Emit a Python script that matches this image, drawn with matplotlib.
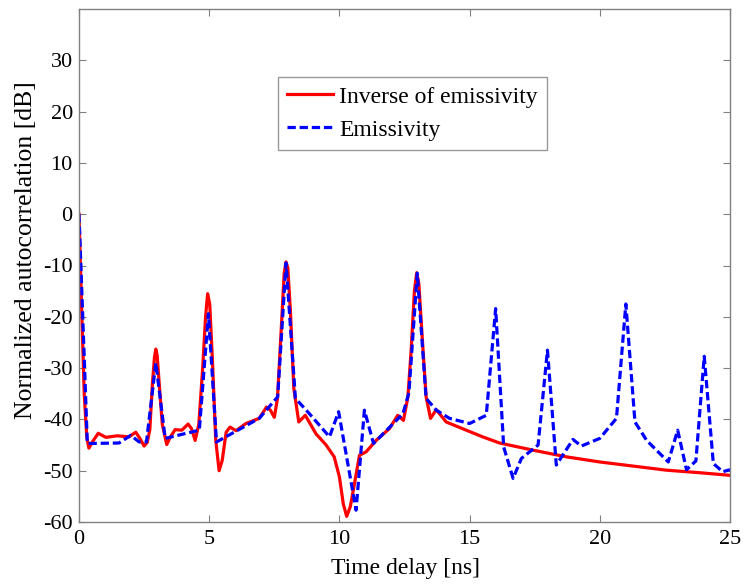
import numpy as np
import matplotlib.pyplot as plt

plt.rcParams['font.family'] = ['Liberation Serif', 'DejaVu Serif']
plt.rcParams['axes.unicode_minus'] = False

# inverse of emissivity (smooth curve)
inv_t = [0.0, 0.1, 0.2, 0.3, 0.38, 0.5, 0.74, 1.03, 1.47, 1.92, 2.18, 2.35, 2.5, 2.62, 2.72,
         2.82, 2.9, 2.95, 3.0, 3.08, 3.2, 3.37, 3.5, 3.69, 3.95, 4.19, 4.32, 4.46, 4.6,
         4.75, 4.86, 4.94, 5.02, 5.12, 5.25, 5.38, 5.5, 5.65, 5.8, 6.03, 6.41, 6.92, 7.2,
         7.35, 7.5, 7.62, 7.75, 7.88, 7.95, 8.02, 8.12, 8.25, 8.44, 8.69, 9.1, 9.49, 9.8,
         10.0, 10.15, 10.28, 10.42, 10.58, 10.77, 11.03, 11.41, 11.92, 12.24, 12.46, 12.63,
         12.75, 12.88, 12.97, 13.05, 13.18, 13.33, 13.5, 13.72, 14.1, 14.87, 15.5, 16.15,
         17.44, 18.72, 20.0, 21.28, 22.56, 23.85, 25.0]
inv_db = [0.0, -18.0, -35.0, -43.5, -45.6, -44.5, -42.7, -43.5, -43.2, -43.4, -42.5, -43.8,
          -45.2, -44.5, -42.0, -33.0, -27.8, -26.3, -27.5, -33.0, -41.0, -44.9, -43.5, -42.0,
          -42.1, -40.9, -41.8, -44.1, -41.0, -30.0, -20.0, -15.5, -17.5, -28.0, -44.0, -50.0,
          -48.0, -42.5, -41.5, -42.2, -40.8, -39.8, -37.6, -38.2, -39.6, -36.0, -24.0, -11.5,
          -9.3, -10.5, -19.0, -34.0, -40.5, -39.2, -42.8, -45.0, -47.3, -51.2, -56.5, -58.9,
          -57.0, -52.5, -47.0, -46.3, -44.1, -41.8, -39.2, -40.2, -35.6, -27.0, -15.0, -11.4,
          -13.5, -24.0, -35.6, -39.8, -38.1, -40.5, -42.1, -43.4, -44.6, -46.0, -47.3,
          -48.3, -49.1, -49.9, -50.4, -50.9]

# emissivity (sampled, drawn as straight segments)
emi_t = [0.0, 0.32, 1.54, 1.99, 2.31, 2.59, 2.95, 3.31, 4.62, 4.97, 5.28, 6.92, 7.63, 7.95,
         8.31, 8.85, 9.62, 9.97, 10.64, 10.96, 11.31, 12.44, 12.67, 12.99, 13.33, 13.72,
         14.23, 15.0, 15.64, 16.0, 16.31, 16.67, 16.99, 17.63, 17.99, 18.33, 18.97, 19.29,
         20.0, 20.64, 21.0, 21.35, 21.8, 22.63, 22.99, 23.33, 23.69, 24.01, 24.36, 24.72, 25.0]
emi_db = [0.0, -44.7, -44.6, -43.1, -44.4, -44.4, -29.0, -43.7, -42.1, -19.4, -44.4, -39.8,
          -35.6, -9.5, -35.9, -38.9, -43.4, -38.5, -57.7, -38.2, -44.7, -38.9, -34.8, -11.5,
          -35.9, -38.2, -39.8, -40.8, -39.2, -18.4, -45.4, -51.5, -47.6, -45.0, -26.5, -48.9,
          -43.9, -45.2, -43.7, -39.8, -17.5, -40.5, -44.1, -48.3, -42.1, -49.8, -48.1, -27.7,
          -48.6, -50.2, -49.8]

fig = plt.figure(figsize=(7.46, 5.84), dpi=100)
ax = fig.add_axes([79 / 746, 1 - 522 / 584, 651 / 746, 513 / 584])

ax.plot(inv_t, inv_db, color='red', lw=2.3, label='Inverse of emissivity')
ax.plot(emi_t, emi_db, color='blue', lw=2.3, dashes=(2.6, 1.2), label='Emissivity')

ax.set_xlim(0, 25)
ax.set_ylim(-60, 40)
ax.set_xticks([0, 5, 10, 15, 20, 25])
ax.set_yticks(np.arange(-60, 31, 10))

for s in ax.spines.values():
    s.set_color('#808080')
    s.set_linewidth(1.0)
ax.tick_params(direction='in', length=5, color='#808080', labelsize=16,
               top=True, right=True)
ax.tick_params(axis='x', pad=6)
ax.tick_params(axis='y', pad=4.5)

ax.set_xlabel('Time delay [ns]', fontsize=17, va='center')
ax.xaxis.set_label_coords(0.502, -0.09)
ax.set_ylabel('Normalized autocorrelation [dB]', fontsize=18.5, va='center')
ax.yaxis.set_label_coords(-0.082, 0.53)

leg = ax.legend(loc='upper left', bbox_to_anchor=(0.305, 0.868), fontsize=17,
                frameon=True, fancybox=False, handlelength=1.95, borderpad=0.4,
                labelspacing=0.48, handletextpad=0.25, borderaxespad=0)
leg.get_frame().set_edgecolor('#808080')
leg.get_frame().set_linewidth(1.0)

fig.savefig('out.png', dpi=100)
